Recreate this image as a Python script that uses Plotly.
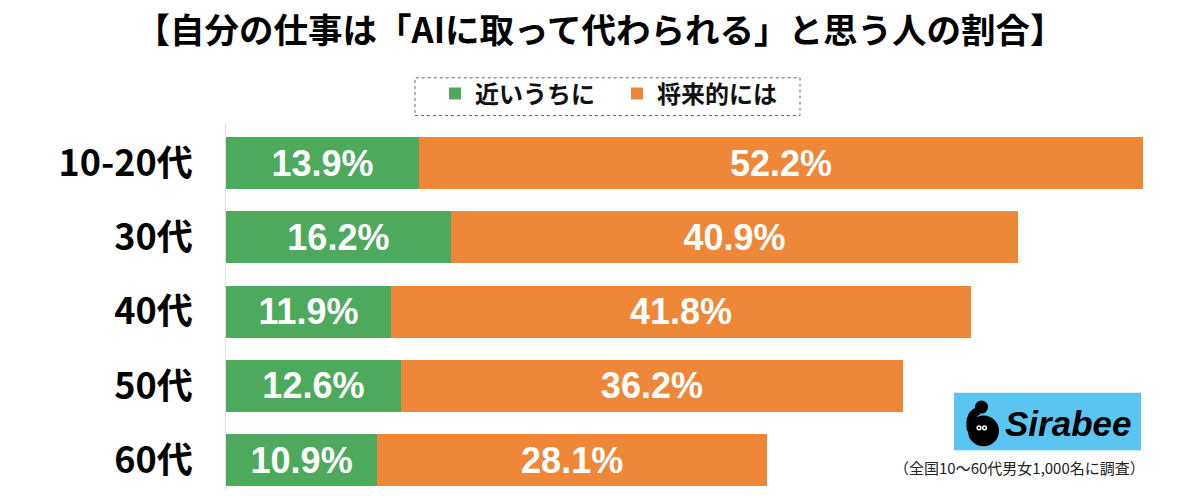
import plotly.graph_objects as go

categories = ["10-20代", "30代", "40代", "50代", "60代"]
soon = [13.9, 16.2, 11.9, 12.6, 10.9]
future = [52.2, 40.9, 41.8, 36.2, 28.1]
series_names = ["近いうちに", "将来的には"]
title_text = "【自分の仕事は「AIに取って代わられる」と思う人の割合】"
note_text = "（全国10〜60代男女1,000名に調査）"

GREEN = "#4DAA5C"
ORANGE = "#EE8838"
JP = "Noto Sans CJK JP"
NUM = "Liberation Sans, Arial, sans-serif"

fig = go.Figure()
for name, vals, col in [(series_names[0], soon, GREEN), (series_names[1], future, ORANGE)]:
    fig.add_trace(go.Bar(
        name=name, y=categories, x=vals, orientation="h",
        marker=dict(color=col, line=dict(width=0)),
        text=[f"{v:.1f}%" for v in vals],
        textposition="inside", insidetextanchor="middle",
        textfont=dict(family=NUM, size=36, color="white", weight="bold"),
        hoverinfo="skip",
    ))

W, H = 1200, 496
L, R, T, B = 226, 30, 120, 6
plot_w = W - L - R
px_per_unit = 917 / 66.1
x_max = plot_w / px_per_unit
span = (H - T - B) / 74.75
top_val = -(161 - T) / 74.75

fig.update_layout(
    width=W, height=H,
    margin=dict(l=L, r=R, t=T, b=B),
    paper_bgcolor="white", plot_bgcolor="white",
    barmode="stack", bargap=0.3,
    showlegend=True,
    legend=dict(
        orientation="h", xref="container", x=617 / W, xanchor="center",
        yref="container", y=1 - 94 / H, yanchor="middle",
        font=dict(family=JP, size=24, color="#111111", weight="bold"),
        bgcolor="rgba(0,0,0,0)", borderwidth=0, itemwidth=30,
        entrywidth=137, entrywidthmode="pixels",
        traceorder="normal",
    ),
    xaxis=dict(range=[0, x_max], visible=False, fixedrange=True),
    yaxis=dict(
        categoryorder="array", categoryarray=categories,
        range=[top_val + span, top_val],
        showline=True, linecolor="#e0e0e0", linewidth=1,
        ticks="", showgrid=False, zeroline=False,
        tickfont=dict(family=JP, size=36, color="black", weight="bold"),
        ticklabelstandoff=25,
    ),
    title=dict(
        text=title_text, x=0.5, xref="container", xanchor="center",
        y=1 - 31 / H, yref="container", yanchor="middle",
        font=dict(family=JP, size=34.5, color="black", weight="bold"),
    ),
)

def px_x(x):
    return (x - L) / plot_w

def px_y(y):
    return (H - B - y) / (H - T - B)

# dotted legend box
fig.add_shape(type="rect", xref="paper", yref="paper",
              x0=px_x(415), x1=px_x(800), y0=px_y(113), y1=px_y(75),
              line=dict(color="#666666", width=1, dash="dot"), fillcolor="rgba(0,0,0,0)")

# Sirabee logo
fig.add_shape(type="rect", xref="paper", yref="paper",
              x0=px_x(954), x1=px_x(1141), y0=px_y(450), y1=px_y(392),
              line=dict(width=0), fillcolor="#5BC5F2")
fig.add_shape(type="circle", xref="paper", yref="paper",
              x0=px_x(968), x1=px_x(999), y0=px_y(446), y1=px_y(415),
              line=dict(width=0), fillcolor="black")
fig.add_shape(type="circle", xref="paper", yref="paper",
              x0=px_x(975), x1=px_x(988), y0=px_y(413), y1=px_y(400),
              line=dict(width=0), fillcolor="black")
neck = "M {},{} Q {},{} {},{}".format(
    px_x(979), px_y(410), px_x(968), px_y(414), px_x(971), px_y(430))
fig.add_shape(type="path", xref="paper", yref="paper", path=neck,
              line=dict(color="black", width=8))
for ex in (979, 984.5):
    fig.add_shape(type="circle", xref="paper", yref="paper",
                  x0=px_x(ex - 2.6), x1=px_x(ex + 2.6), y0=px_y(430), y1=px_y(424.8),
                  line=dict(width=0), fillcolor="white")
    fig.add_shape(type="circle", xref="paper", yref="paper",
                  x0=px_x(ex - 1.1), x1=px_x(ex + 1.1), y0=px_y(428.5), y1=px_y(426.3),
                  line=dict(width=0), fillcolor="black")
fig.add_annotation(text="<i><b>Sirabee</b></i>", xref="paper", yref="paper",
                   x=px_x(1068), y=px_y(423), xanchor="center", yanchor="middle",
                   showarrow=False,
                   font=dict(family="Liberation Sans, Arial", size=35, color="black"))
fig.add_annotation(text=note_text, xref="paper", yref="paper",
                   x=px_x(1147), y=px_y(467), xanchor="right", yanchor="middle",
                   showarrow=False,
                   font=dict(family=JP, size=15, color="#222222"))

fig.write_html("out.html")
